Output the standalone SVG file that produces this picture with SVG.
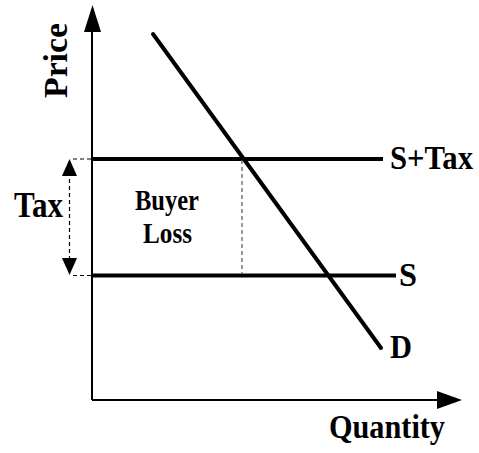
<svg xmlns="http://www.w3.org/2000/svg" width="479" height="453" viewBox="0 0 479 453">
  <style>
    text { font-family: "Liberation Serif", "Times New Roman", serif; font-weight: bold; fill: #000; }
    .big { font-size: 33px; }
    .mid { font-size: 29px; }
    .thick { stroke: #000; stroke-width: 4; fill: none; }
    .axis { stroke: #000; stroke-width: 2; fill: none; }
    .dash { stroke: #000; stroke-width: 1.2; stroke-dasharray: 4 3; fill: none; }
    .gdash { stroke: #555; stroke-width: 1.2; stroke-dasharray: 4 3; fill: none; }
  </style>
  <rect width="479" height="453" fill="#fff"/>
  <g id="connectors">
    <line class="axis" x1="92" y1="400" x2="92" y2="28"/>
    <polygon points="92.5,5 84,32 101,32" fill="#000"/>
    <line class="axis" x1="92" y1="400" x2="440" y2="400"/>
    <polygon points="462,400 437,391 437,409" fill="#000"/>
    <line class="thick" x1="92" y1="159" x2="383" y2="159"/>
    <line class="thick" x1="92" y1="275.5" x2="396" y2="275.5"/>
    <line class="thick" x1="153" y1="34" x2="381" y2="348" stroke-linecap="round"/>
    <line class="gdash" x1="242" y1="160" x2="242" y2="274"/>
    <line class="dash" x1="73" y1="159" x2="92" y2="159"/>
    <line class="dash" x1="73" y1="275.5" x2="92" y2="275.5"/>
    <line class="dash" x1="69.5" y1="172" x2="69.5" y2="262"/>
    <polygon points="69.5,159 62,176 77,176" fill="#000"/>
    <polygon points="69.5,275 62,258 77,258" fill="#000"/>
  </g>
  <g id="price-label"><text class="big" transform="translate(67,98) rotate(-90)" textLength="75" lengthAdjust="spacingAndGlyphs">Price</text></g>
  <g id="quantity-label"><text class="big" x="329" y="438" textLength="116" lengthAdjust="spacingAndGlyphs">Quantity</text></g>
  <g id="tax-label"><text class="big" x="14" y="217" textLength="49" lengthAdjust="spacingAndGlyphs" style="font-size:35px">Tax</text></g>
  <g id="buyer-loss"><text class="mid" x="135" y="210" textLength="64" lengthAdjust="spacingAndGlyphs">Buyer</text><text class="mid" x="143" y="243" textLength="49" lengthAdjust="spacingAndGlyphs">Loss</text></g>
  <g id="s-tax-label"><text class="big" x="390" y="169" textLength="83" lengthAdjust="spacingAndGlyphs">S+Tax</text></g>
  <g id="s-label"><text class="big" x="399" y="286" textLength="18" lengthAdjust="spacingAndGlyphs">S</text></g>
  <g id="d-label"><text class="big" x="390" y="358" textLength="22" lengthAdjust="spacingAndGlyphs">D</text></g>
</svg>
